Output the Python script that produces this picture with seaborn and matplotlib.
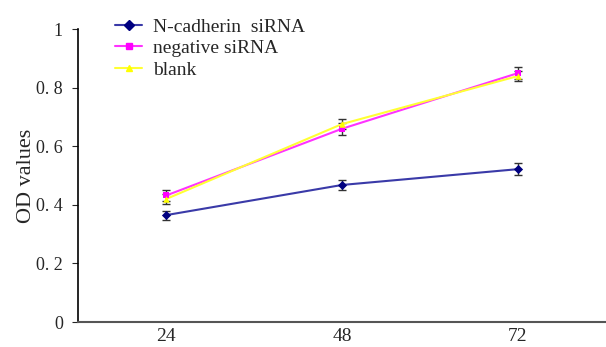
import numpy as np
import pandas as pd
import matplotlib
matplotlib.use("Agg")
import matplotlib.pyplot as plt
import seaborn as sns

# --- DATA ---
hours = ["24", "48", "72"]
groups = ["N-cadherin  siRNA", "negative siRNA", "blank"]
ncad_od = [0.365, 0.468, 0.522]
neg_od = [0.432, 0.660, 0.850]
blank_od = [0.420, 0.676, 0.840]
ncad_err = [0.015, 0.018, 0.020]
neg_err = [0.020, 0.020, 0.020]
blank_err = [0.018, 0.018, 0.018]
yticks = [0, 0.2, 0.4, 0.6, 0.8, 1.0]
ytick_labels = ["0", "0. 2", "0. 4", "0. 6", "0. 8", "1"]

colors = {"N-cadherin  siRNA": "#3a3aa8", "negative siRNA": "#ff33ff", "blank": "#ffff33"}
marker_colors = {"N-cadherin  siRNA": "#000080", "negative siRNA": "#ff00ff", "blank": "#ffff00"}
markers = {"N-cadherin  siRNA": "D", "negative siRNA": "s", "blank": "^"}

values = [ncad_od, neg_od, blank_od]
errors = [ncad_err, neg_err, blank_err]
df = pd.DataFrame({
    "pos": np.tile(np.arange(len(hours)), len(groups)),
    "od": np.concatenate(values),
    "group": np.repeat(groups, len(hours)),
})

sns.set_style("white")
plt.rcParams["font.family"] = ["Liberation Serif", "DejaVu Serif"]

fig = plt.figure(figsize=(6.06, 3.47), dpi=100)
ax = fig.add_axes([0.129, 0.072, 0.871, 0.844])

for g, v, e in zip(groups, values, errors):
    ax.errorbar(range(len(hours)), v, yerr=e, fmt="none", ecolor="#333333",
                elinewidth=1, capsize=3, capthick=1, zorder=1)

sns.lineplot(data=df, x="pos", y="od", hue="group", hue_order=groups,
             palette=colors, ax=ax, linewidth=1.5, legend=False, zorder=2)
for g, v in zip(groups, values):
    ax.scatter(range(len(hours)), v, marker=markers[g], color=marker_colors[g],
               s=22, zorder=3, linewidths=0)

# legend
handles = [plt.Line2D([], [], color=colors[g], lw=1.5, marker=markers[g],
                      markerfacecolor=marker_colors[g], markeredgecolor=marker_colors[g],
                      markersize=5) for g in groups]
ax.legend(handles, groups, loc="upper left", bbox_to_anchor=(0.055, 1.065),
          frameon=False, fontsize=14, handlelength=1.4, labelspacing=0.2,
          handletextpad=0.55, borderaxespad=0)

ax.set_xlim(-0.5, 2.5)
ax.set_ylim(0, 1)
ax.set_xticks(range(len(hours)))
ax.set_xticklabels(hours, fontsize=14)
ax.set_xticks([0.5, 1.5], minor=True)
ax.set_yticks(yticks)
ax.set_yticklabels(ytick_labels, fontsize=13)
ax.tick_params(axis="x", which="major", length=0, pad=4)
ax.tick_params(axis="x", which="minor", direction="in", length=3, width=0.8, color="#555555")
ax.tick_params(axis="y", which="major", direction="out", length=4, width=0.8, pad=7, left=True)
ax.set_xlabel("")
ax.set_ylabel("OD values", fontsize=16)
ax.yaxis.set_label_coords(-0.08, 0.5)

sns.despine(ax=ax, top=True, right=True)
ax.spines["left"].set_color("black")
ax.spines["left"].set_linewidth(1.2)
ax.spines["bottom"].set_color("#555555")
ax.spines["bottom"].set_linewidth(1.5)

fig.savefig("out.png", dpi=100)
